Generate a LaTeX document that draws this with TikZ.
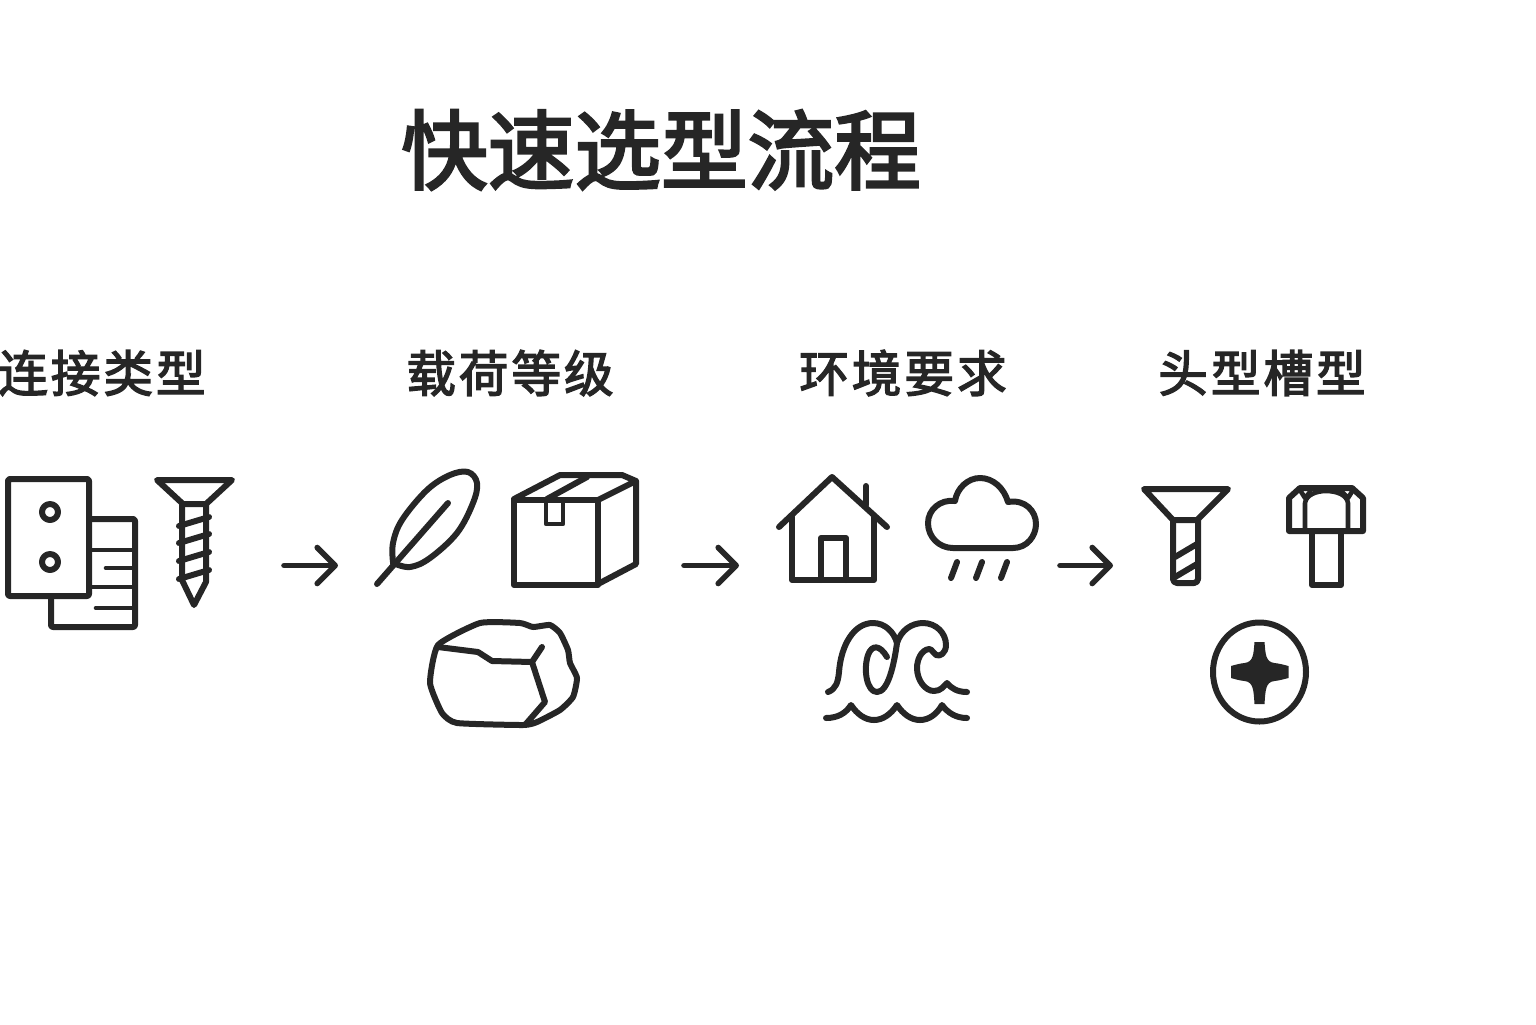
\documentclass[tikz,border=0pt]{standalone}
\usepackage{fontspec}
\usepackage{xcolor}
\usetikzlibrary{arrows.meta}
\newfontfamily\cjk[FakeBold=3]{Noto Sans CJK SC}
\newfontfamily\cjkspaced[FakeBold=2.8,LetterSpace=6]{Noto Sans CJK SC}
\definecolor{Ink}{HTML}{262626}
\tikzset{
  titletext/.style={font=\cjk\fontsize{43.3pt}{50pt}\selectfont,text=Ink,inner sep=0pt},
  steptext/.style={font=\cjkspaced\fontsize{24.8pt}{30pt}\selectfont,text=Ink,inner sep=0pt},
  icon/.style={draw=Ink,line width=3pt,line join=round,line cap=round},
  thinicon/.style={draw=Ink,line width=2.3pt,line join=round,line cap=round},
  arrow/.style={-{Straight Barb[length=9pt,width=18pt,round]},draw=Ink,line width=2.8pt,line cap=round}
}
\begin{document}
\begin{tikzpicture}[x=0.5pt,y=-0.5pt]
  \useasboundingbox (0,0) rectangle (1536,1024);
  \node[titletext] (title) at (661,150) {快速选型流程};
  \node[steptext] (connect) at (102,373) {连接类型};
  \node[steptext] (load) at (510,373) {载荷等级};
  \node[steptext] (env) at (903,373) {环境要求};
  \node[steptext] (head) at (1262,373) {头型槽型};

  \draw[icon,rounded corners=1pt] (8,479) rectangle (89,596);
  \draw[icon,rounded corners=1pt] (89,519) -- (135,519) -- (135,627) -- (51,627) -- (51,596);
  \foreach \y in {550,587} \draw[thinicon] (89,\y) -- (133,\y);
  \draw[thinicon] (106,568) -- (133,568);
  \draw[thinicon] (96,608) -- (133,608);
  \foreach \y in {512,562} \draw[icon] (50,\y) circle (8);
  \draw[icon] (157,480) -- (232,480) -- (206,504) -- (183,504) -- cycle;
  \draw[icon] (182,504) -- (182,580) -- (194,605) -- (206,582) -- (206,504);
  \foreach \y in {526,543,561,579} \draw[icon] (179,\y) -- (209,\y-9);

  \coordinate (flowa) at (284,565.5);
  \coordinate (flowb) at (338,565.5);
  \draw[arrow] (flowa) -- (flowb);

  \draw[icon] plot[smooth,tension=0.6] coordinates {(393,562) (393,543) (402,520) (427,490) (450,475) (468,472) (477,483) (473,503) (457,533) (430,558) (410,567) (393,563)};
  \draw[icon] (377,584) -- (448,503);

  \draw[icon] (514,500) rectangle (598,585);
  \draw[icon] (514,499) -- (560,475) -- (622,475) -- (636,481) -- (598,500);
  \draw[icon] (636,481) -- (636,564) -- (598,584);
  \draw[icon] (547,499) -- (587,477);
  \draw[thinicon] (546,500) -- (546,524) -- (563,524) -- (563,500);

  \draw[icon] plot[smooth cycle,tension=0.3] coordinates {(438,645) (480,623) (520,623) (533,627) (550,625) (560,633) (568,650) (570,663) (577,678) (573,697) (560,710) (537,722) (523,725) (457,723) (442,713) (430,683)};
  \draw[icon] (438,647) -- (478,652) -- (492,661) -- (532,662) -- (542,647);
  \draw[icon] (532,662) -- (545,702) -- (525,725);

  \coordinate (flowc) at (684,565.5);
  \coordinate (flowd) at (739,565.5);
  \draw[arrow] (flowc) -- (flowd);

  \draw[icon] (779,527) -- (832,477) -- (887,527);
  \draw[icon] (792,517) -- (792,580) -- (874,580) -- (874,517);
  \draw[icon] (821,580) -- (821,538) -- (846,538) -- (846,580);
  \draw[icon] (866,486) -- (866,505);

  \draw[icon] (953,548) -- (1013,548) .. controls (1027,548) and (1036,536) .. (1036,524) .. controls (1036,511) and (1025,499) .. (1008,502) .. controls (1004,488) and (993,478) .. (980,478) .. controls (968,478) and (957,488) .. (955,501) .. controls (940,499) and (928,510) .. (928,523) .. controls (928,537) and (939,548) .. (953,548) -- cycle;
  \foreach \x in {957,982,1007} \draw[icon] (\x,562) -- (\x-6,578);

  \draw[icon] (828,692) .. controls (836,689) and (838,682) .. (839,672) .. controls (841,645) and (854,623) .. (873,623) .. controls (885,623) and (894,632) .. (897,643);
  \draw[icon] (887,657) .. controls (880,645) and (872,644) .. (868,655) .. controls (863,670) and (867,692) .. (877,692) .. controls (888,692) and (894,665) .. (897,643);
  \draw[icon] (897,643) .. controls (901,630) and (912,623) .. (923,623) .. controls (936,623) and (946,633) .. (946,645) .. controls (946,653) and (940,657) .. (936,655) .. controls (933,653) and (932,649) .. (929,649) .. controls (921,650) and (917,660) .. (917,668) .. controls (917,680) and (925,691) .. (934,691) .. controls (941,691) and (944,686) .. (947,683) .. controls (951,688) and (957,692) .. (967,692);
  \draw[icon] (826,718) .. controls (838,718) and (846,713) .. (851,705) .. controls (857,714) and (865,720) .. (874,720) .. controls (883,720) and (891,714) .. (897,705) .. controls (903,714) and (911,720) .. (920,720) .. controls (929,720) and (937,714) .. (942,705) .. controls (948,713) and (956,718) .. (967,718);

  \coordinate (flowe) at (1060,565.5);
  \coordinate (flowf) at (1113,565.5);
  \draw[arrow] (flowe) -- (flowf);

  \draw[icon] (1144,489) -- (1228,489) -- (1197,520) -- (1173,520) -- cycle;
  \draw[icon,rounded corners=2pt] (1173,520) -- (1173,583) -- (1198,583) -- (1198,520);
  \foreach \y in {557,577} \draw[icon] (1175,\y) -- (1197,\y-13);

  \draw[icon] (1289,531) -- (1289,498) -- (1300,488) -- (1352,488) -- (1363,498) -- (1363,531) -- cycle;
  \draw[icon] (1312,531) -- (1312,585) -- (1341,585) -- (1341,531);
  \draw[thinicon] (1305,531) -- (1305,503) .. controls (1306,495) and (1316,491) .. (1326,491) .. controls (1337,491) and (1347,495) .. (1348,503) -- (1348,531);
  \draw[thinicon] (1300,490) -- (1305,498) -- (1310,492);
  \draw[thinicon] (1342,492) -- (1348,498) -- (1353,490);

  \draw[icon] (1259.5,672) ellipse [x radius=46.5,y radius=49.5];
  \fill[Ink] (1264.5,642) .. controls (1265.5,654) and (1265.5,662) .. (1274.5,663) .. controls (1279.5,663.5) and (1284.5,665) .. (1288.5,666) -- (1288.5,678) .. controls (1284.5,679) and (1279.5,680.5) .. (1274.5,681) .. controls (1265.5,682) and (1265.5,690) .. (1264.5,704) -- (1254.5,704) .. controls (1253.5,690) and (1253.5,682) .. (1244.5,681) .. controls (1239.5,680.5) and (1234.5,679) .. (1231,678) -- (1231,666) .. controls (1234.5,665) and (1239.5,663.5) .. (1244.5,663) .. controls (1253.5,662) and (1253.5,654) .. (1254.5,642) -- cycle;
\end{tikzpicture}
\end{document}
